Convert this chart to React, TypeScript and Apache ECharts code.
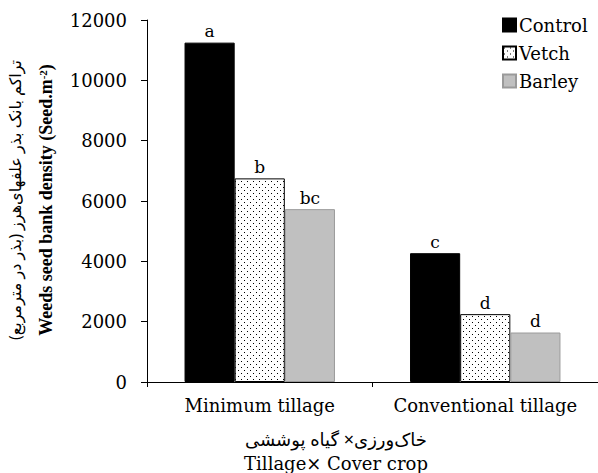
import React, { useEffect, useRef } from 'react';
import * as echarts from 'echarts';

const categories = ['Minimum tillage', 'Conventional tillage'];
const seriesNames = ['Control', 'Vetch', 'Barley'];
const controlValues = [11250, 4270];
const vetchValues = [6750, 2250];
const barleyValues = [5730, 1640];
const controlLetters = ['a', 'c'];
const vetchLetters = ['b', 'd'];
const barleyLetters = ['bc', 'd'];
const yMin = 0;
const yMax = 12000;
const yInterval = 2000;

const SERIF = "'Liberation Serif', 'Times New Roman', serif";
const WIDE = "'DejaVu Serif', 'Liberation Serif', serif";

const dotSvg =
  '<svg xmlns="http://www.w3.org/2000/svg" width="6" height="6">' +
  '<rect width="6" height="6" fill="#ffffff"/>' +
  '<rect x="1" y="1" width="1" height="1" fill="#000000"/>' +
  '<rect x="4" y="4" width="1" height="1" fill="#000000"/>' +
  '</svg>';
const dotUrl = 'data:image/svg+xml;charset=utf-8,' + encodeURIComponent(dotSvg);

export default function App() {
  const ref = useRef<HTMLDivElement>(null);
  useEffect(() => {
    document.body.style.margin = '0';
    const chart = echarts.init(ref.current!, null, { renderer: 'svg' });
    const labelFor = (letters: string[]) => ({
      show: true,
      position: 'top' as const,
      distance: 3,
      formatter: (p: any) => letters[p.dataIndex],
      fontFamily: WIDE,
      fontSize: 17,
      color: '#000',
    });
    chart.setOption({
      animation: false,
      backgroundColor: '#ffffff',
      textStyle: { fontFamily: WIDE },
      grid: { left: 147, top: 20, right: 0, bottom: 91, containLabel: false },
      legend: {
        orient: 'vertical',
        left: 497,
        top: 11,
        itemWidth: 13,
        itemHeight: 13,
        itemGap: 10,
        icon: 'rect',
        textStyle: { fontFamily: WIDE, fontSize: 18, color: '#000', padding: [0, 0, 0, -2] },
        data: seriesNames,
      },
      xAxis: {
        type: 'category',
        data: categories,
        axisLine: { lineStyle: { color: '#000', width: 1 } },
        axisTick: { show: true, length: 5, lineStyle: { color: '#000' } },
        axisLabel: { interval: 0, fontFamily: WIDE, fontSize: 18, color: '#000', margin: 14 },
      },
      yAxis: {
        type: 'value',
        min: yMin,
        max: yMax,
        interval: yInterval,
        splitLine: { show: false },
        axisLine: { show: true, lineStyle: { color: '#000', width: 1 } },
        axisTick: { show: true, length: 6, lineStyle: { color: '#000' } },
        axisLabel: {
          fontFamily: WIDE,
          fontSize: 18,
          color: '#000',
          margin: 20,
          formatter: (v: number) => String(v),
        },
      },
      graphic: [
        {
          type: 'text',
          x: 15,
          y: 200,
          rotation: Math.PI / 2,
          style: {
            text: 'تراکم بانک بذر علفهای‌هرز (بذر در مترمربع)',
            font: "16px 'Noto Sans', 'DejaVu Sans', sans-serif",
            fill: '#000',
            align: 'center',
            verticalAlign: 'middle',
          },
        },
        {
          type: 'text',
          x: 46,
          y: 200,
          rotation: Math.PI / 2,
          style: {
            text: '{a|Weeds seed bank density (Seed.m}{s|-2}{a|)}',
            align: 'center',
            verticalAlign: 'middle',
            rich: {
              a: { fontFamily: SERIF, fontSize: 18, fill: '#000', fontWeight: 'bold' },
              s: { fontFamily: SERIF, fontSize: 11, fill: '#000', fontWeight: 'bold', verticalAlign: 'top', padding: [0, 0, 6, 0] },
            },
          },
        },
        {
          type: 'text',
          x: 336,
          y: 439,
          style: {
            text: 'خاک‌ورزی× گیاه پوششی',
            font: "18px 'Noto Sans', 'DejaVu Sans', sans-serif",
            fill: '#000',
            align: 'center',
            verticalAlign: 'middle',
          },
        },
        {
          type: 'text',
          x: 336,
          y: 463,
          style: {
            text: 'Tillage× Cover crop',
            font: "18px 'DejaVu Serif', 'Liberation Serif', serif",
            fill: '#000',
            align: 'center',
            verticalAlign: 'middle',
          },
        },
      ],
      series: [
        {
          name: seriesNames[0],
          type: 'bar',
          data: controlValues,
          barGap: '0%',
          barCategoryGap: '33.3%',
          itemStyle: { color: '#000000', borderColor: '#000000', borderWidth: 1 },
          label: labelFor(controlLetters),
        },
        {
          name: seriesNames[1],
          type: 'bar',
          data: vetchValues,
          barGap: '0%',
          barCategoryGap: '33.3%',
          itemStyle: {
            color: { image: dotUrl, repeat: 'repeat', imageWidth: 6, imageHeight: 6 },
            borderColor: '#000000',
            borderWidth: 1,
          },
          label: labelFor(vetchLetters),
        },
        {
          name: seriesNames[2],
          type: 'bar',
          data: barleyValues,
          barGap: '0%',
          barCategoryGap: '33.3%',
          itemStyle: { color: '#c0c0c0', borderColor: '#9a9a9a', borderWidth: 1 },
          label: labelFor(barleyLetters),
        },
      ],
    });
    return () => chart.dispose();
  }, []);
  return <div ref={ref} style={{ width: 598, height: 473 }} />;
}
